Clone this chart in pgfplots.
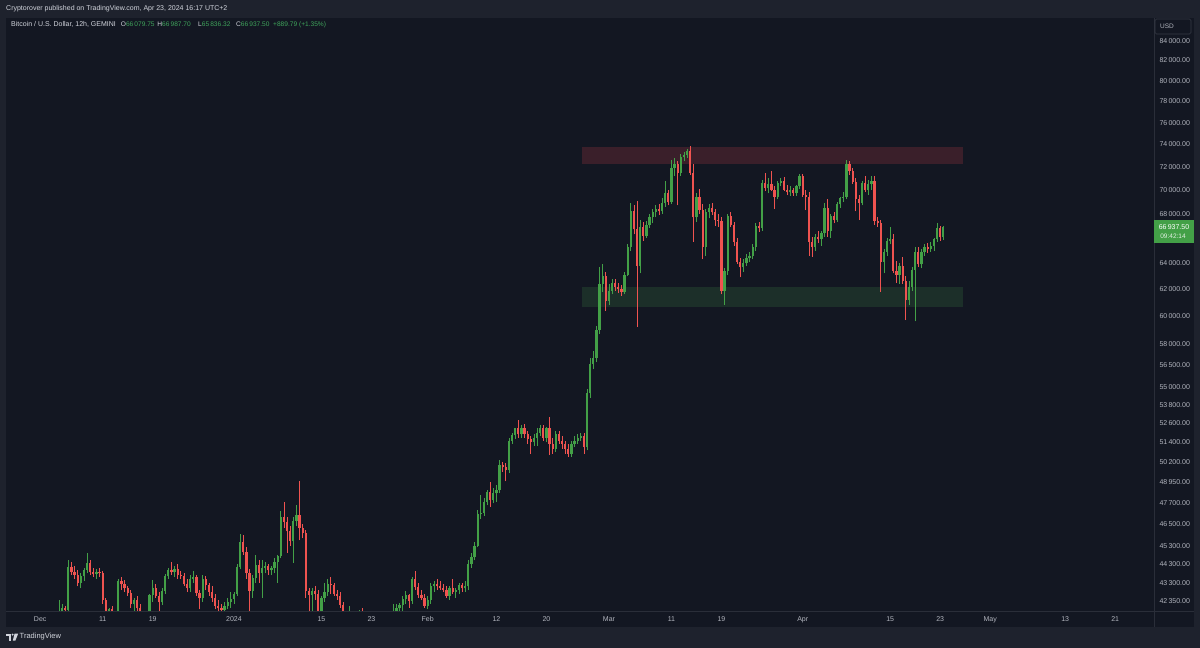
\documentclass[border=0pt]{standalone}
\usepackage{pgfplots}
\pgfplotsset{compat=1.18}
\usepackage{pgfplotstable}
\usepackage{fontspec}
\setmainfont{Liberation Sans}
\definecolor{bgc}{HTML}{131722}
\definecolor{framec}{HTML}{1E222D}
\definecolor{upc}{HTML}{43A047}
\definecolor{dnc}{HTML}{EF5350}
\definecolor{axtxt}{HTML}{B2B5BE}
\definecolor{hdtxt}{HTML}{D1D4DC}
\definecolor{sepc}{HTML}{2A2E39}
\definecolor{redzone}{HTML}{3A1F2A}
\definecolor{greenzone}{HTML}{1C2F29}
\definecolor{valgreen}{HTML}{3FA45B}
\definecolor{boxline}{HTML}{363A45}

\pgfplotstableread{
i o h l c
6 39980 42400 39700 41700
7 41700 42200 41400 41950
8 41950 42100 41600 41850
9 41850 44500 41700 44150
10 44150 44400 43700 43870
11 43870 44200 43500 43700
12 43700 43950 43100 43280
13 43280 43800 43000 43630
14 43630 44100 43400 43980
15 43980 44900 43800 44340
16 44340 44500 43700 43870
17 43870 44100 43600 43750
18 43750 44000 43500 43850
19 43850 44100 43600 43800
20 43800 43900 42200 42390
21 42390 42500 40300 41100
22 41100 42000 40600 41900
23 41900 42100 41000 41500
24 41500 41700 40700 41200
25 41200 43500 41100 43380
26 43380 43600 42900 43200
27 43200 43450 42800 43000
28 43000 43100 42600 42740
29 42740 42900 42000 42200
30 42200 42500 41800 42380
31 42380 42600 41700 41950
32 41950 42200 41300 41500
33 41500 41800 41100 41360
34 41360 41600 40500 41000
35 41000 42700 40800 42650
36 42650 43450 42300 43000
37 43000 43200 42500 42600
38 42600 42800 41800 42270
39 42270 43000 42150 42850
40 42850 43750 42700 43650
41 43650 44100 43500 43950
42 43950 44420 43700 43850
43 43850 44200 43600 44050
44 44050 44300 43500 43700
45 43700 43900 43500 43650
46 43650 43800 43100 43200
47 43200 43500 42800 43020
48 43020 43700 42800 43500
49 43500 43900 43300 43620
50 43620 43700 42600 42750
51 42750 42900 41900 42500
52 42500 43700 42300 43500
53 43500 43650 42900 43150
54 43150 43300 42600 42800
55 42800 43100 42300 42500
56 42500 42700 41900 42100
57 42100 42400 41400 41950
58 41950 42200 41500 41850
59 41850 42300 41600 42100
60 42100 42500 41900 42300
61 42300 42800 42000 42450
62 42450 42800 42200 42700
63 42700 44300 42600 44150
64 44150 45950 44000 45500
65 45500 45900 44800 44950
66 44950 45200 43480 43800
67 43800 44000 40750 42850
68 42850 43700 42500 43550
69 43550 44800 43300 44230
70 44230 44500 43300 43800
71 43800 44500 42500 44100
72 44100 44400 43800 44200
73 44200 44300 43700 43950
74 43950 44200 43700 44100
75 44100 44600 43800 44400
76 44400 44800 43300 44730
77 44730 47250 44600 46900
78 46900 47760 46300 46650
79 46650 46900 44900 46100
80 46100 46400 45300 45550
81 45550 46900 44350 46700
82 46700 47600 46400 47050
83 47050 49000 45600 46300
84 46300 46500 45700 45990
85 45990 46200 42500 42850
86 42850 43000 41500 42650
87 42650 43000 41700 42840
88 42840 43100 42400 42700
89 42700 42900 41700 41800
90 41800 42600 41700 42500
91 42500 43300 42300 42800
92 42800 43500 42600 43200
93 43200 43580 42700 43150
94 43150 43300 42600 42700
95 42700 42900 42400 42600
96 42600 42800 42000 42150
97 42150 42300 40700 41260
98 41260 41700 40300 41400
99 41400 42100 41300 41620
100 41620 41800 41300 41500
101 41500 41800 41400 41660
102 41660 41850 41400 41700
103 41700 42000 41300 41550
104 41550 41700 40500 40700
105 40700 40900 39400 39500
106 39500 40100 38500 39200
107 39200 40100 38800 39850
108 39850 40500 39500 40200
109 40200 40500 39800 40080
110 40080 40300 39500 39800
111 39800 40300 39600 39930
112 39930 41000 39800 40800
113 40800 42200 40600 41800
114 41800 42200 41500 41950
115 41950 42250 41700 42120
116 42120 42600 41800 42450
117 42450 42850 42200 42650
118 42650 42700 42000 42350
119 42350 43600 42200 43500
120 43500 43900 42900 43050
121 43050 43300 42500 42650
122 42650 42900 42400 42500
123 42500 42700 42000 42100
124 42100 42600 41900 42400
125 42400 43300 42200 43100
126 43100 43400 42800 43200
127 43200 43500 42900 43100
128 43100 43400 42900 43000
129 43000 43200 42800 42900
130 42900 43100 42500 42600
131 42600 43100 42400 43000
132 43000 43500 42700 42800
133 42800 43000 42500 42900
134 42900 43300 42700 43150
135 43150 43300 42800 43000
136 43000 43400 42800 43100
137 43100 44500 42900 44300
138 44300 44900 44100 44700
139 44700 45500 44500 45300
140 45300 47300 45200 47100
141 47100 48200 46800 47150
142 47150 48000 47000 47800
143 47800 48500 47600 48400
144 48400 48970 47500 47900
145 47900 48600 47700 48300
146 48300 48800 47800 48500
147 48500 50300 48300 50000
148 50000 50200 49600 49900
149 49900 50100 49000 49700
150 49700 51700 49500 51500
151 51500 52000 51300 51850
152 51850 52300 51600 52300
153 52300 52850 51700 51900
154 51900 52500 51700 52300
155 52300 52600 51700 51900
156 51900 52100 51300 51600
157 51600 51800 50700 51400
158 51400 51900 51200 51700
159 51700 52300 51200 52000
160 52000 52500 51800 52300
161 52300 52500 51500 51700
162 51700 52400 51400 52300
163 52300 53000 50600 51300
164 51300 51700 50700 51000
165 51000 52100 50800 51900
166 51900 52100 51300 51500
167 51500 51800 51000 51300
168 51300 51500 50700 51000
169 51000 51300 50500 50700
170 50700 51500 50500 51300
171 51300 51800 51100 51500
172 51500 51900 51300 51700
173 51700 52000 51500 51800
174 51800 52000 50700 51100
175 51100 54900 50900 54600
176 54600 57000 54300 56600
177 56600 57500 56200 57000
178 57000 59300 56700 59000
179 59000 63700 58700 62400
180 62400 63900 61800 63000
181 63000 63300 60400 61100
182 61100 62400 60800 61900
183 61900 62800 61600 62500
184 62500 62800 61900 62200
185 62200 62500 61700 62000
186 62000 62300 61500 61800
187 61800 63300 61600 63100
188 63100 65500 63000 65300
189 65300 68900 65000 68200
190 68200 68700 66300 66700
191 66700 69100 59200 63800
192 63800 67500 63200 66900
193 66900 67300 65800 66200
194 66200 67400 66000 67100
195 67100 68000 66800 67700
196 67700 68400 67200 68100
197 68100 68700 67700 68400
198 68400 68800 67900 68200
199 68200 69300 68000 68900
200 68900 70800 68600 69700
201 69700 70000 68700 69000
202 69000 72600 68800 71900
203 71900 72800 71200 72300
204 72300 72500 68700 71500
205 71500 73200 71200 72900
206 72900 73300 72500 73100
207 73100 73600 72800 73400
208 73400 73900 71300 71500
209 71500 72300 65700 67700
210 67700 69700 67300 69400
211 69400 70100 68000 68300
212 68300 68800 64300 65300
213 65300 68400 64600 68100
214 68100 68800 67600 68500
215 68500 68900 67900 68100
216 68100 68400 67000 67500
217 67500 68000 66900 67400
218 67400 67700 61600 61900
219 61900 63600 60800 63400
220 63400 68000 63100 67800
221 67800 68100 66900 67100
222 67100 67300 65400 65700
223 65700 66000 63900 64100
224 64100 64400 62900 63700
225 63700 64300 63300 64000
226 64000 64700 63800 64400
227 64400 64900 64100 64600
228 64600 65500 64300 65300
229 65300 67200 65000 67000
230 67000 67300 66500 66800
231 66800 70900 66600 70600
232 70600 71500 69900 70200
233 70200 71000 69700 70500
234 70500 71600 69900 70000
235 70000 70300 68400 69400
236 69400 70800 69200 70600
237 70600 71000 70300 70800
238 70800 71100 69900 70000
239 70000 70400 69600 69800
240 69800 70300 69500 70000
241 70000 70200 69500 69700
242 69700 70400 69500 70300
243 70300 71400 70100 71200
244 71200 71400 69400 69600
245 69600 70000 68300 69400
246 69400 69800 64600 65700
247 65700 66100 64500 65300
248 65300 66300 65000 66100
249 66100 66600 65600 65900
250 65900 66600 65400 66400
251 66400 68900 66100 68500
252 68500 69200 66100 66600
253 66600 68000 66000 67800
254 67800 68100 67200 67500
255 67500 69000 67300 68800
256 68800 69400 68500 69300
257 69300 69800 69000 69400
258 69400 72600 69200 72300
259 72300 72500 71300 71600
260 71600 71900 70500 70700
261 70700 71000 68200 69200
262 69200 69600 67500 68900
263 68900 70800 68700 70600
264 70600 71200 69800 70000
265 70000 70900 69600 70500
266 70500 71200 70000 70800
267 70800 71200 67100 67400
268 67400 67700 66900 67200
269 67200 67500 61800 64100
270 64100 65100 63200 64900
271 64900 66000 64600 65800
272 65800 66900 65500 65900
273 65900 66300 63200 63400
274 63400 64200 62500 63100
275 63100 64000 62400 63800
276 63800 64500 62400 62600
277 62600 63000 59700 61200
278 61200 62600 60800 62200
279 62200 63700 61900 63500
280 63500 65300 59600 64900
281 64900 65300 63700 63900
282 63900 65100 63600 64900
283 64900 65500 64600 65300
284 65300 65600 64800 65100
285 65100 65700 64900 65400
286 65400 66000 65000 65900
287 65900 67200 65700 66840
288 66840 67000 65800 66048
289 66079.75 66987.70 65836.32 66937.50
}\candles

\pgfplotsset{candle/.style={draw=none, mark=none, forget plot,
  error bars/y dir=plus, error bars/y explicit, error bars/error mark=none}}

\begin{document}
\begin{tikzpicture}[x=1pt,y=1pt]
\fill[framec] (0,0) rectangle (1200,-648);
\fill[bgc] (6,-18) rectangle (1194,-627);
\draw[sepc, line width=0.8pt] (1154,-18) -- (1154,-627);
\draw[sepc, line width=0.8pt] (6,-611) -- (1194,-611);
\begin{axis}[
  at={(6pt,-18pt)}, anchor=north west, scale only axis,
  width=1148pt, height=593pt,
  xmin=-10.944, xmax=356.42,
  ymode=log, ymin=41827, ymax=86397,
  axis line style={draw=none},
  major tick length=0pt, minor tick length=0pt, tick style={draw=none},
  xtick={0,20,36,62,90,106,124,146,162,182,202,218,244,272,288,304,328,344},
  xticklabels={Dec,11,19,2024,15,23,Feb,12,20,Mar,11,19,Apr,15,23,May,13,21},
  ytick={42350,43300,44300,45300,46500,47700,48950,50200,51400,52600,53800,55000,56500,58000,60000,62000,64000,68000,70000,72000,74000,76000,78000,80000,82000,84000},
  yticklabels={42\,350.00,43\,300.00,44\,300.00,45\,300.00,46\,500.00,47\,700.00,48\,950.00,50\,200.00,51\,400.00,52\,600.00,53\,800.00,55\,000.00,56\,500.00,58\,000.00,60\,000.00,62\,000.00,64\,000.00,68\,000.00,70\,000.00,72\,000.00,74\,000.00,76\,000.00,78\,000.00,80\,000.00,82\,000.00,84\,000.00},
  yticklabel pos=right,
  ticklabel style={font=\fontsize{7}{8}\selectfont, text=axtxt},
  yticklabel style={anchor=west, xshift=2pt},
  xticklabel style={anchor=north, yshift=-2pt},
  clip=true,
]
% zones
\addplot[draw=none, fill=redzone, forget plot] coordinates {(173.3,72270) (295.2,72270) (295.2,73760) (173.3,73760)} -- cycle;
\addplot[draw=none, fill=greenzone, forget plot] coordinates {(173.3,60690) (295.2,60690) (295.2,62150) (173.3,62150)} -- cycle;
% wicks
\addplot[candle, restrict expr to domain={\thisrow{c}-\thisrow{o}}{0:1000000},
  error bars/error bar style={draw=upc, line width=0.9pt}]
  table[x=i, y=l, y error expr=\thisrow{h}-\thisrow{l}] {\candles};
\addplot[candle, restrict expr to domain={\thisrow{c}-\thisrow{o}}{-1000000:-0.001},
  error bars/error bar style={draw=dnc, line width=0.9pt}]
  table[x=i, y=l, y error expr=\thisrow{h}-\thisrow{l}] {\candles};
% bodies
\addplot[candle, restrict expr to domain={\thisrow{c}-\thisrow{o}}{0:1000000},
  error bars/error bar style={draw=upc, line width=2.3pt}]
  table[x=i, y=o, y error expr=\thisrow{c}-\thisrow{o}] {\candles};
\addplot[candle, restrict expr to domain={\thisrow{c}-\thisrow{o}}{-1000000:-0.001},
  error bars/error bar style={draw=dnc, line width=2.3pt}]
  table[x=i, y=c, y error expr=\thisrow{o}-\thisrow{c}] {\candles};
\end{axis}
% header
\node[anchor=west, inner sep=0, text=hdtxt, font=\fontsize{7}{8}\selectfont] at (6,-8.5) {Cryptorover published on TradingView.com, Apr 23, 2024 16:17 UTC+2};
\node[anchor=west, inner sep=0, text=hdtxt, font=\fontsize{7}{8}\selectfont] at (11,-24.5) {Bitcoin / U.S. Dollar, 12h, GEMINI};
\begin{scope}[every node/.style={anchor=west, inner sep=0, font=\fontsize{6.6}{8}\selectfont, text=hdtxt}]
\node at (120.7,-24.5) {O\textcolor{valgreen}{66\,079.75}};
\node at (157.2,-24.5) {H\textcolor{valgreen}{66\,987.70}};
\node at (198,-24.5) {L\textcolor{valgreen}{65\,836.32}};
\node at (236,-24.5) {C\textcolor{valgreen}{66\,937.50}};
\node at (273,-24.5) {\textcolor{valgreen}{+889.79 (+1.35\%)}};
\end{scope}
% USD box
\draw[boxline, fill=bgc, rounded corners=1.5pt, line width=0.6pt] (1155,-19) rectangle (1191,-34);
\node[anchor=west, inner sep=0, text=axtxt, font=\fontsize{6.5}{7}\selectfont] at (1160,-26.5) {USD};
% price label
\fill[upc] (1154,-220) rectangle (1194,-243);
\node[inner sep=0, text=white, font=\fontsize{7}{8}\selectfont] at (1174,-226.6) {66\,937.50};
\node[inner sep=0, text=white!85!upc, font=\fontsize{6.5}{7}\selectfont] at (1173,-236.5) {09:42:14};
% bottom logo
\fill[hdtxt] (6,-633.5) rectangle (11,-635.7);
\fill[hdtxt] (8.6,-635.7) rectangle (11,-640.5);
\fill[hdtxt] (12.6,-634.6) circle (1.05);
\fill[hdtxt] (14.6,-633.5) -- (18.2,-633.5) -- (15.4,-640.5) -- (12.8,-640.5) -- cycle;
\node[anchor=west, inner sep=0, text=hdtxt, font=\fontsize{7.5}{8}\selectfont] at (19.5,-637) {TradingView};
\end{tikzpicture}
\end{document}
